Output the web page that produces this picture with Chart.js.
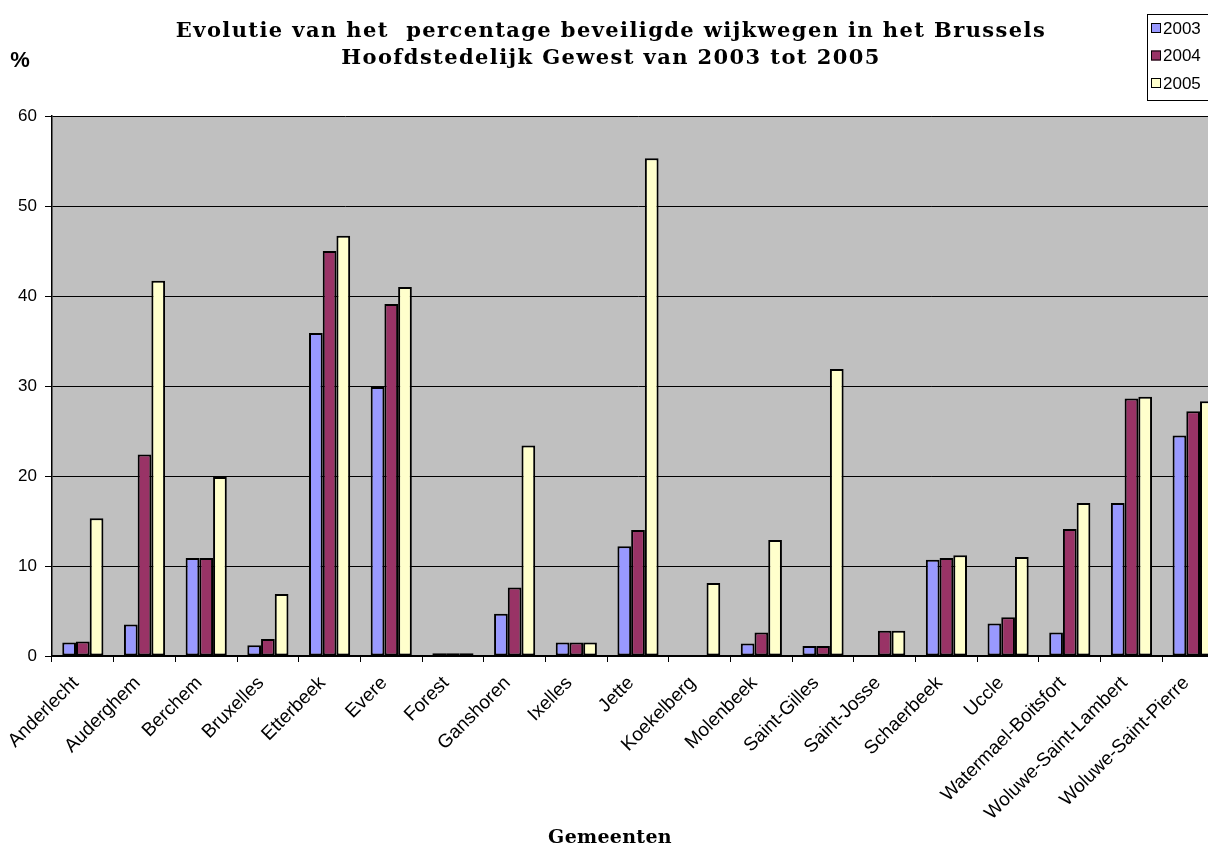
<!DOCTYPE html>
<html lang="nl">
<head>
<meta charset="UTF-8" />
<title>Beveiligde wijkwegen Brussel 2003-2005</title>
<script src="https://cdn.jsdelivr.net/npm/chart.js"></script>
<style>
    html, body { margin: 0; padding: 0; background: #fff; overflow: hidden; }
    #wrap { position: relative; width: 1208px; height: 847px; overflow: hidden; }
    canvas { display: block; }
</style>
</head>
<body>
<div id="wrap">
    <canvas id="chart" width="1232" height="847"></canvas>
</div>
<script>
    // gemeenten (categories)
    const gemeenten = [
        "Anderlecht", "Auderghem", "Berchem", "Bruxelles", "Etterbeek", "Evere",
        "Forest", "Ganshoren", "Ixelles", "Jette", "Koekelberg", "Molenbeek",
        "Saint-Gilles", "Saint-Josse", "Schaerbeek", "Uccle",
        "Watermael-Boitsfort", "Woluwe-Saint-Lambert", "Woluwe-Saint-Pierre"
    ];

    // percentages
    const pct2003 = [1.5, 3.5, 10.9, 1.2, 35.9, 29.9, 0.3, 4.7, 1.5, 12.2, 0, 1.4, 1.1, 0, 10.7, 3.6, 2.6, 17.0, 24.5];
    const pct2004 = [1.6, 22.4, 10.9, 1.9, 45.0, 39.1, 0.3, 7.6, 1.5, 14.0, 0, 2.6, 1.1, 2.8, 10.9, 4.3, 14.1, 28.6, 27.2];
    const pct2005 = [15.3, 41.7, 19.9, 6.9, 46.7, 41.0, 0.3, 23.4, 1.5, 55.3, 8.1, 12.9, 31.9, 2.8, 11.2, 11.0, 17.0, 28.8, 28.3];

    const years = ["2003", "2004", "2005"];
    const colors = ["#9999FF", "#993366", "#FFFFCC"];
    const yTicks = [0, 10, 20, 30, 40, 50, 60];

    const titleLines = [
        "Evolutie van het  percentage beveiligde wijkwegen in het Brussels",
        "Hoofdstedelijk Gewest van 2003 tot 2005"
    ];

    // grey plot background
    const plotBg = {
        id: "plotBg",
        beforeDraw(chart) {
            const { ctx, chartArea: a } = chart;
            ctx.save();
            ctx.fillStyle = "#C0C0C0";
            ctx.fillRect(a.left, a.top, a.right - a.left, a.bottom - a.top);
            ctx.restore();
        }
    };

    // title, "%" label, axis title and boxed legend
    const extras = {
        id: "extras",
        afterDraw(chart) {
            const ctx = chart.ctx;
            ctx.save();
            ctx.fillStyle = "#000";
            ctx.textAlign = "center";
            ctx.textBaseline = "alphabetic";

            ctx.font = "bold 21px 'DejaVu Serif'";
            ctx.letterSpacing = "1.4px";
            ctx.fillText(titleLines[0], 611, 37);
            ctx.fillText(titleLines[1], 611, 64);

            ctx.letterSpacing = "0.3px";
            ctx.font = "bold 19px 'DejaVu Serif'";
            ctx.fillText("Gemeenten", 610, 843);
            ctx.letterSpacing = "0px";

            ctx.font = "bold 22px 'Liberation Sans'";
            ctx.fillText("%", 20, 67);

            // legend
            ctx.strokeStyle = "#000";
            ctx.lineWidth = 1;
            ctx.strokeRect(1147.5, 14.5, 80, 86);
            ctx.font = "17px 'Liberation Sans'";
            ctx.textAlign = "left";
            ctx.textBaseline = "middle";
            years.forEach((y, i) => {
                const cy = 28 + i * 27.5;
                ctx.fillStyle = colors[i];
                ctx.fillRect(1151, cy - 5, 10, 10);
                ctx.strokeRect(1151.5, cy - 4.5, 9, 9);
                ctx.fillStyle = "#000";
                ctx.fillText(y, 1163, cy + 1);
            });
            ctx.restore();
        }
    };

    const datasets = [pct2003, pct2004, pct2005].map((vals, i) => ({
        label: years[i],
        data: vals,
        backgroundColor: colors[i],
        borderColor: "#000",
        borderWidth: 2,
        borderSkipped: false,
        categoryPercentage: 0.667,
        barPercentage: 1.0
    }));

    new Chart(document.getElementById("chart"), {
        type: "bar",
        data: { labels: gemeenten, datasets: datasets },
        options: {
            responsive: false,
            animation: false,
            layout: { padding: { top: 116, right: 8, bottom: 0, left: 0 } },
            plugins: {
                legend: { display: false },
                title: { display: false },
                tooltip: { enabled: false }
            },
            scales: {
                x: {
                    grid: {
                        offset: true,
                        drawOnChartArea: false,
                        drawTicks: true,
                        tickLength: 6,
                        color: "#000"
                    },
                    border: { color: "#000", width: 2 },
                    ticks: {
                        color: "#000",
                        font: { family: "'Liberation Sans'", size: 19 },
                        minRotation: 45,
                        maxRotation: 45,
                        autoSkip: false,
                        padding: 10,
                        labelOffset: -7
                    },
                    afterFit(scale) { scale.height = 191; }
                },
                y: {
                    min: 0,
                    max: 60,
                    afterBuildTicks(scale) {
                        scale.ticks = yTicks.map(v => ({ value: v }));
                    },
                    grid: {
                        color: "#000",
                        lineWidth: 1,
                        drawTicks: true,
                        tickLength: 7
                    },
                    border: { color: "#000", width: 1.5 },
                    ticks: {
                        color: "#000",
                        font: { family: "'Liberation Sans'", size: 17 },
                        padding: 8
                    },
                    afterFit(scale) { scale.width = 52; }
                }
            }
        },
        plugins: [plotBg, extras]
    });
</script>
</body>
</html>
